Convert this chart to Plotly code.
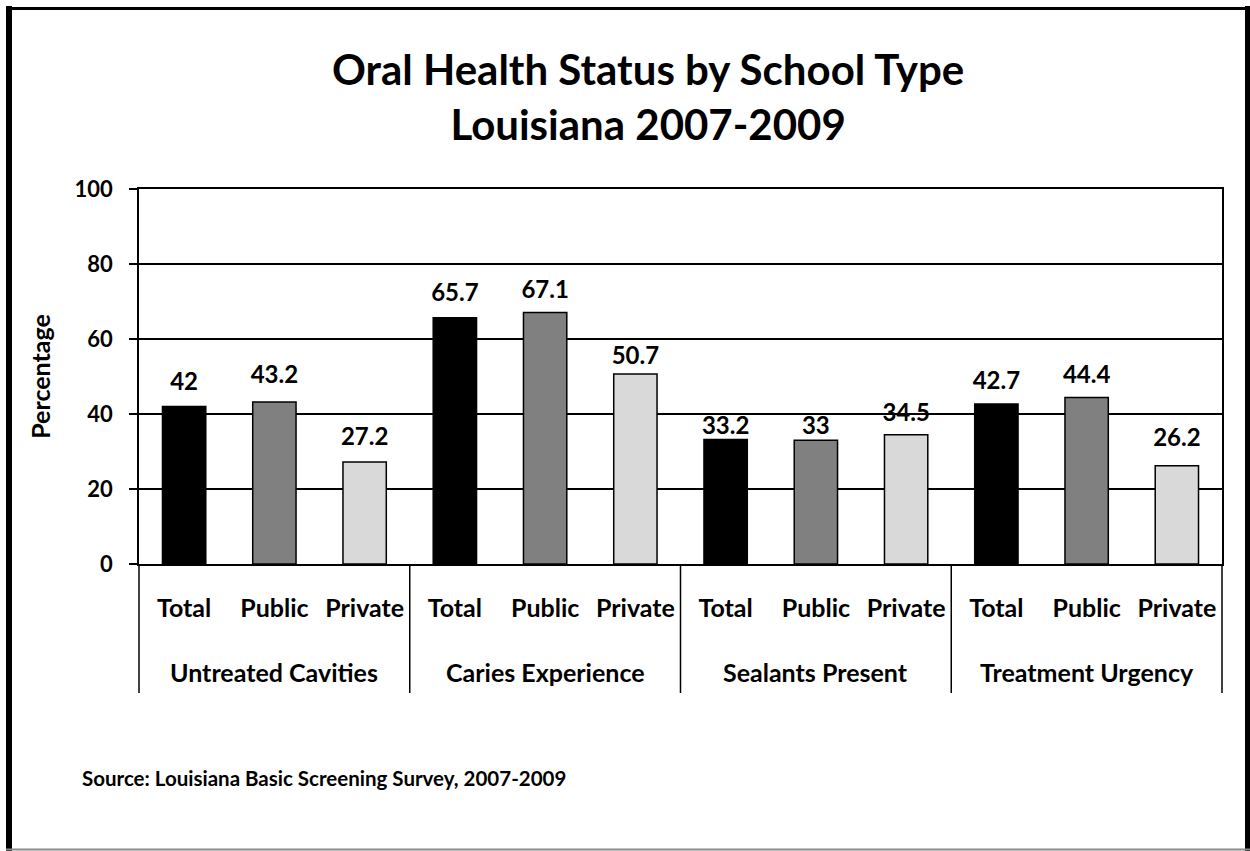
import plotly.graph_objects as go

# data
measures = ["Untreated Cavities", "Caries Experience", "Sealants Present", "Treatment Urgency"]
school_types = ["Total", "Public", "Private"]
total_vals = [42, 65.7, 33.2, 42.7]
public_vals = [43.2, 67.1, 33, 44.4]
private_vals = [27.2, 50.7, 34.5, 26.2]

# style: how far (px) each value label sits above its bar, in plot order
label_gap = [26, 28, 26, 26, 23, 19, 14, 12, 23, 24, 24, 29]

TYPE_COLORS = {"Total": "#000000", "Public": "#808080", "Private": "#d9d9d9"}
FONT = "Lato, Carlito, Calibri, sans-serif"
BLACK = "#000000"

# flatten: one slot per (measure, school type)
cats, vals, colors = [], [], []
for i, m in enumerate(measures):
    for t, series in zip(school_types, [total_vals, public_vals, private_vals]):
        cats.append(t)
        vals.append(series[i])
        colors.append(TYPE_COLORS[t])
slots = list(range(len(vals)))
n_types = len(school_types)

fig = go.Figure()
fig.add_trace(go.Bar(
    x=slots, y=vals,
    marker=dict(color=colors, line=dict(color=BLACK, width=1.5)),
    width=0.48,
    hoverinfo="skip",
))
# value labels; an invisible marker sets the label offset above each bar
fig.add_trace(go.Scatter(
    x=slots, y=vals,
    mode="markers+text",
    marker=dict(size=[max(0, 1.6 * (g - 16)) for g in label_gap], opacity=0),
    text=[f"{v:g}" for v in vals],
    textposition="top center",
    textfont=dict(family=FONT, size=24, color=BLACK, weight="bold"),
    hoverinfo="skip",
))

# plot area in px: x 139..1222, y 189..564
L, R, T, B = 139, 1222, 189, 564


def px_x(p):
    return (p - L) / (R - L)


def px_y(p):
    return (B - p) / (B - T)


# group labels and dividers under the category labels
for k, m in enumerate(measures):
    fig.add_annotation(
        xref="x", yref="paper", x=k * n_types + (n_types - 1) / 2, y=px_y(672),
        text=m, showarrow=False, xanchor="center", yanchor="middle",
        font=dict(family=FONT, size=25, color=BLACK, weight="bold"),
    )
for k in range(len(measures) + 1):
    xd = k * n_types / len(vals)  # group boundary as fraction of the x axis
    fig.add_shape(type="line", xref="paper", yref="paper",
                  x0=xd, x1=xd, y0=0, y1=px_y(693),
                  line=dict(color=BLACK, width=1.5))

frame = [
    (px_x(9), px_y(6), px_x(9), px_y(851), 6, BLACK),
    (px_x(6), px_y(8.5), px_x(1250), px_y(8.5), 3, BLACK),
    (px_x(1247.5), px_y(6), px_x(1247.5), px_y(851), 5, BLACK),
    (px_x(6), px_y(849.5), px_x(1250), px_y(849.5), 2, "#8a8a8a"),
]
for x0, y0, x1, y1, w, c in frame:
    fig.add_shape(type="line", xref="paper", yref="paper",
                  x0=x0, y0=y0, x1=x1, y1=y1,
                  line=dict(color=c, width=w), layer="above")

fig.add_annotation(
    xref="paper", yref="paper", x=px_x(648), y=px_y(97),
    text="Oral Health Status by School Type<br>Louisiana 2007-2009",
    showarrow=False, xanchor="center", yanchor="middle",
    font=dict(family=FONT, size=42, color=BLACK, weight="bold"),
)
fig.add_annotation(
    xref="paper", yref="paper", x=px_x(80), y=px_y(778),
    text="Source: Louisiana Basic Screening Survey, 2007-2009",
    showarrow=False, xanchor="left", yanchor="middle",
    font=dict(family=FONT, size=20.5, color=BLACK, weight="bold"),
)

fig.update_layout(
    width=1250, height=851,
    margin=dict(l=L, r=1250 - R, t=T, b=851 - B, pad=0),
    paper_bgcolor="#ffffff",
    plot_bgcolor="#ffffff",
    showlegend=False,
    font=dict(family=FONT, color=BLACK, weight="bold"),
    xaxis=dict(
        range=[-0.5, len(vals) - 0.5],
        tickvals=slots, ticktext=cats,
        showline=True, linecolor=BLACK, linewidth=1.5, mirror=True,
        showgrid=False, zeroline=False, ticks="",
        tickangle=0,
        ticklabelstandoff=21,
        tickfont=dict(family=FONT, size=25, color=BLACK, weight="bold"),
    ),
    yaxis=dict(
        range=[0, 100], dtick=20,
        showline=True, linecolor=BLACK, linewidth=1.5, mirror=True,
        showgrid=True, gridcolor=BLACK, gridwidth=1.5,
        zeroline=False,
        ticks="outside", ticklen=8, tickcolor=BLACK, tickwidth=1.5,
        ticklabelstandoff=12,
        tickfont=dict(family=FONT, size=22, color=BLACK, weight="bold"),
        title=dict(text="Percentage", standoff=17,
                   font=dict(family=FONT, size=25, color=BLACK, weight="bold")),
    ),
)

fig.write_html("out.html", config={"displayModeBar": False},
               post_script="document.body.style.margin='0px';")
